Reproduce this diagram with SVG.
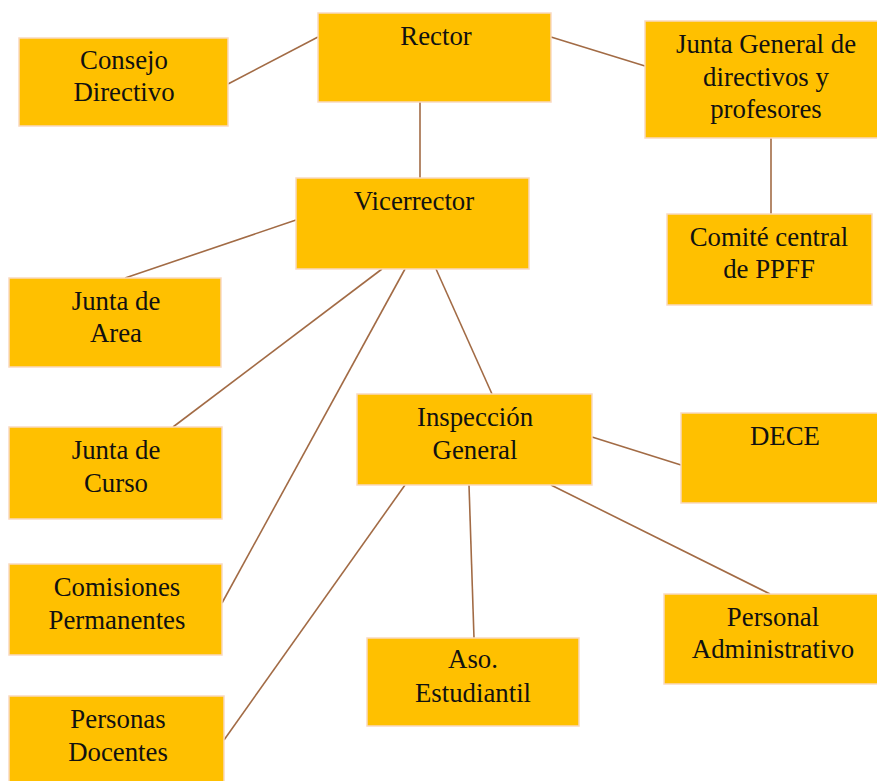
<svg xmlns="http://www.w3.org/2000/svg" width="877" height="781" viewBox="0 0 877 781">
<style>
.box{fill:#FFC000;stroke:#F9D9C0;stroke-width:1.5}
.t{font-family:"Liberation Serif","Times New Roman",serif;font-size:26.8px;fill:#111;text-anchor:middle}
.c{stroke:#A26B45;stroke-width:1.6;fill:none}
</style>
<rect width="877" height="781" fill="#fff"/>
<g id="connectors">
<line class="c" x1="228" y1="84" x2="318" y2="37"/>
<line class="c" x1="551" y1="37" x2="645" y2="66"/>
<line class="c" x1="420" y1="102" x2="420" y2="178"/>
<line class="c" x1="771" y1="138" x2="771" y2="214"/>
<line class="c" x1="296" y1="220" x2="125" y2="278"/>
<line class="c" x1="382" y1="269" x2="173" y2="427"/>
<line class="c" x1="405" y1="269" x2="222" y2="603"/>
<line class="c" x1="436" y1="269" x2="492" y2="394"/>
<line class="c" x1="405" y1="485" x2="224" y2="740"/>
<line class="c" x1="469" y1="485" x2="474" y2="638"/>
<line class="c" x1="592" y1="437" x2="681" y2="465"/>
<line class="c" x1="551" y1="485" x2="770" y2="594"/>
</g>
<g id="consejo"><rect class="box" x="19" y="38" width="209" height="88"/><text class="t" x="124" y="69">Consejo</text><text class="t" x="124" y="101">Directivo</text></g>
<g id="rector"><rect class="box" x="318" y="13" width="233" height="89"/><text class="t" x="436" y="45">Rector</text></g>
<g id="junta-general"><rect class="box" x="645" y="21" width="234" height="117"/><text class="t" x="766" y="53">Junta General de</text><text class="t" x="766" y="86">directivos y</text><text class="t" x="766" y="118">profesores</text></g>
<g id="comite"><rect class="box" x="667" y="214" width="205" height="91"/><text class="t" x="769" y="246">Comité central</text><text class="t" x="769" y="278">de PPFF</text></g>
<g id="vicerrector"><rect class="box" x="296" y="178" width="233" height="91"/><text class="t" x="414" y="210">Vicerrector</text></g>
<g id="junta-area"><rect class="box" x="9" y="278" width="212" height="89"/><text class="t" x="116" y="310">Junta de</text><text class="t" x="116" y="342">Area</text></g>
<g id="junta-curso"><rect class="box" x="9" y="427" width="213" height="92"/><text class="t" x="116" y="459">Junta de</text><text class="t" x="116" y="492">Curso</text></g>
<g id="comisiones"><rect class="box" x="9" y="564" width="213" height="91"/><text class="t" x="117" y="596">Comisiones</text><text class="t" x="117" y="629">Permanentes</text></g>
<g id="personas"><rect class="box" x="9" y="696" width="215" height="90"/><text class="t" x="118" y="728">Personas</text><text class="t" x="118" y="761">Docentes</text></g>
<g id="inspeccion"><rect class="box" x="357" y="394" width="235" height="91"/><text class="t" x="475" y="426">Inspección</text><text class="t" x="475" y="459">General</text></g>
<g id="dece"><rect class="box" x="681" y="413" width="200" height="90"/><text class="t" x="785" y="445">DECE</text></g>
<g id="personal-admin"><rect class="box" x="664" y="594" width="217" height="90"/><text class="t" x="773" y="626">Personal</text><text class="t" x="773" y="658">Administrativo</text></g>
<g id="aso"><rect class="box" x="367" y="638" width="212" height="88"/><text class="t" x="473" y="668">Aso.</text><text class="t" x="473" y="702">Estudiantil</text></g>
</svg>
